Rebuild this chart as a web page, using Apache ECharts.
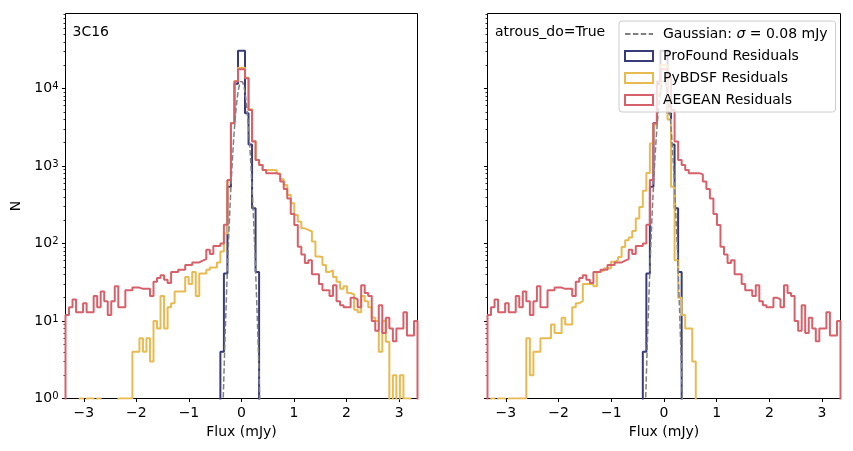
<!DOCTYPE html>
<html>
<head>
<meta charset="utf-8">
<script src="https://cdn.jsdelivr.net/npm/echarts@6/dist/echarts.min.js"></script>
<style>
  html, body { margin: 0; padding: 0; background: #fff; }
  #chart { width: 853px; height: 451px; }
</style>
</head>
<body>
<div id="chart"></div>
<script>
// 100 histogram bins over the plotted flux range (mJy)
const xMin = -3.35, xMax = 3.35;

// counts per bin (0 = empty bin)
const profound = [
  0,0,0,0,0,0,0,0,0,0, 0,0,0,0,0,0,0,0,0,0,
  0,0,0,0,0,0,0,0,0,0, 0,0,0,0,0,0,0,0,0,0,
  0,0,0,0,4,41,540,3600,11500,30700, 30700,4800,1900,285,43,0,0,0,0,0,
  0,0,0,0,0,0,0,0,0,0, 0,0,0,0,0,0,0,0,0,0,
  0,0,0,0,0,0,0,0,0,0, 0,0,0,0,0,0,0,0,0,0
];
const aegean = [
  12,15,19,13,13,17,13,13,21,15, 24,18,12,18,28,15,15,25,25,27,
  27,26,26,26,21,32,36,39,34,31, 43,43,46,46,53,53,57,57,60,63,
  83,73,93,93,100,175,660,3570,12300,17800, 17800,13600,5300,2070,1200,1030,890,810,810,810,
  780,630,505,380,240,174,91,72,56,61, 40,40,30,25,25,21,29,18,16,15,
  15,20,19,15,29,23,21,10,7.5,16, 7,11,8,5.5,8,8,13,6.5,6.5,10
];
const pybdsf3C16 = [
  0,0,0,0,1,0,1,1,0,1, 0,0,0,0,0,1,1,1,1,4,
  4,6,4,6,3,10,8,21,8,15, 17,24,24,24,37,30,43,21,41,41,
  46,49,49,57,79,135,650,3600,12500,18500, 18500,13800,5400,2100,1200,1030,890,890,890,880,
  800,675,570,424,330,233,191,157,150,143, 106,68,67,53,43,45,37,32,26,28,
  23,22,14,13,21,18,15,11,10,4, 10,5.4,0,2,0,2,1,1,0,0
];
const pybdsfAtrous = [
  0,1,0,1,1,0,1,1,1,1, 1,6,2,4,4,6,6,6,9,7,
  7,11,9,9,15,17,18,30,30,30, 28,43,45,48,48,58,61,67,90,110,
  120,145,210,295,480,815,1950,3400,8300,20000, 20000,4000,540,61,20,12,8,8,3,0,
  0,0,0,0,0,0,0,0,0,0, 0,0,0,0,0,0,0,0,0,0,
  0,0,0,0,0,0,0,0,0,0, 0,0,0,0,0,0,0,0,0,0
];

// dashed Gaussian (sigma = 0.08 mJy) as traced on the figure
const gaussX = [-0.36,-0.34,-0.32,-0.30,-0.28,-0.26,-0.24,-0.22,-0.20,-0.18,-0.16,-0.14,-0.12,-0.10,-0.08,-0.06,-0.04,-0.02,0,
  0.02,0.04,0.06,0.08,0.10,0.12,0.14,0.16,0.18,0.20,0.22,0.24,0.26,0.28,0.30,0.32,0.34,0.36];
const gaussY = [0.51,1.5,4.3,11.2,27.7,64,140,288,555,1000,1710,2730,4090,5770,7640,9510,11100,12200,12600,
  12200,11100,9510,7640,5770,4090,2730,1710,1000,555,288,140,64,27.7,11.2,4.3,1.5,0.51];

const xTicks = [-3, -2, -1, 0, 1, 2, 3];
const yMajor = [1, 10, 100, 1000, 10000];
const yMinor = [2,3,4,5,6,7,8,9, 20,30,40,50,60,70,80,90, 200,300,400,500,600,700,800,900,
  2000,3000,4000,5000,6000,7000,8000,9000, 20000,30000,40000,50000,60000,70000,80000,90000];
const yMax = 93000;

const C_PRO = '#393b79', C_PYB = '#e7ba52', C_AEG = '#d6616b', C_GAUSS = '#808080';
const FONT = 'DejaVu Sans';
const GAUSS_NAME = 'Gaussian: σ = 0.08 mJy';

// outline of a step histogram, empty bins fall below the axis
function stepLine(counts) {
  const w = (xMax - xMin) / counts.length;
  const low = 1e-3;
  const pts = [[xMin, low]];
  counts.forEach(function (c, i) {
    const v = c > 0 ? c : low;
    pts.push([xMin + i * w, v], [xMin + (i + 1) * w, v]);
  });
  pts.push([xMax, low]);
  return pts;
}

function histSeries(name, counts, color, idx) {
  return {
    name: name, type: 'line', xAxisIndex: idx, yAxisIndex: idx * 2,
    data: stepLine(counts), symbol: 'none', animation: false,
    lineStyle: { color: color, width: 2 }, itemStyle: { color: color }
  };
}

function gaussSeries(idx) {
  return {
    name: GAUSS_NAME, type: 'line', xAxisIndex: idx, yAxisIndex: idx * 2,
    data: gaussX.map(function (x, i) { return [x, gaussY[i]]; }),
    symbol: 'none', animation: false, z: 3,
    lineStyle: { color: C_GAUSS, width: 1.5, type: [5.5, 2.4] }, itemStyle: { color: C_GAUSS }
  };
}

function xAxis(idx) {
  return {
    gridIndex: idx, type: 'value', min: xMin, max: xMax, position: 'bottom',
    name: 'Flux (mJy)', nameLocation: 'middle', nameGap: 27,
    nameTextStyle: { fontFamily: FONT, fontSize: 14, color: '#000' },
    axisLine: { show: false, onZero: false },
    axisTick: { customValues: xTicks, length: 3.5, lineStyle: { color: '#000' } },
    axisLabel: {
      customValues: xTicks, margin: 8, fontFamily: FONT, fontSize: 14, color: '#000',
      formatter: function (v) { return v < 0 ? '\u2212' + (-v) : String(v); }
    },
    splitLine: { show: false }
  };
}

function yAxes(idx, labels) {
  return [{
    gridIndex: idx, type: 'log', logBase: 10, min: 1, max: yMax, position: 'left',
    name: labels ? 'N' : '', nameLocation: 'middle', nameGap: 42,
    nameTextStyle: { fontFamily: FONT, fontSize: 14, color: '#000' },
    axisLine: { show: false, onZero: false },
    axisTick: { customValues: yMajor, length: 3.5, lineStyle: { color: '#000' } },
    axisLabel: {
      show: labels, customValues: yMajor, margin: 7, color: '#000',
      formatter: function (v) { return '{b|10}{e|' + Math.round(Math.log10(v)) + '}'; },
      rich: {
        b: { fontFamily: FONT, fontSize: 14, lineHeight: 14, verticalAlign: 'bottom', color: '#000' },
        e: { fontFamily: FONT, fontSize: 10, lineHeight: 10, verticalAlign: 'top', padding: [0, 0, 8, 0], color: '#000' }
      }
    },
    splitLine: { show: false }
  }, {
    gridIndex: idx, type: 'log', logBase: 10, min: 1, max: yMax, position: 'left', offset: 0,
    axisLine: { show: false, onZero: false }, axisLabel: { show: false }, splitLine: { show: false },
    axisTick: { customValues: yMinor, length: 2, lineStyle: { color: '#000', width: 0.8 } }
  }];
}

const chart = echarts.init(document.getElementById('chart'), null, { renderer: 'canvas' });
chart.setOption({
  animation: false,
  grid: [
    { left: 65.5, top: 13.5, width: 352, height: 385, show: true, borderColor: '#000', borderWidth: 1, backgroundColor: 'transparent' },
    { left: 487.5, top: 13.5, width: 353, height: 385, show: true, borderColor: '#000', borderWidth: 1, backgroundColor: 'transparent' }
  ],
  xAxis: [xAxis(0), xAxis(1)],
  yAxis: yAxes(0, true).concat(yAxes(1, false)),
  legend: {
    orient: 'vertical', left: 619, top: 21, selectedMode: false,
    padding: [6, 8, 5, 5], itemGap: 8, itemWidth: 28, itemHeight: 10,
    backgroundColor: 'rgba(255,255,255,0.8)', borderColor: '#cccccc', borderWidth: 1, borderRadius: 3,
    textStyle: {
      fontFamily: FONT, fontSize: 14, color: '#000', lineHeight: 14, padding: [0, 0, 0, 5],
      rich: { i: { fontFamily: FONT, fontSize: 14, fontStyle: 'italic', color: '#000', lineHeight: 14 } }
    },
    formatter: function (name) { return name.replace('σ', '{i|σ}'); },
    data: [
      { name: GAUSS_NAME, itemStyle: { opacity: 0 } },
      { name: 'ProFound Residuals', icon: 'rect', itemStyle: { color: 'rgba(0,0,0,0)', borderColor: C_PRO, borderWidth: 2 } },
      { name: 'PyBDSF Residuals', icon: 'rect', itemStyle: { color: 'rgba(0,0,0,0)', borderColor: C_PYB, borderWidth: 2 } },
      { name: 'AEGEAN Residuals', icon: 'rect', itemStyle: { color: 'rgba(0,0,0,0)', borderColor: C_AEG, borderWidth: 2 } }
    ]
  },
  graphic: [
    { type: 'text', x: 72.5, y: 32.5, style: { text: '3C16', fontFamily: FONT, fontSize: 14, fill: '#000', align: 'left', verticalAlign: 'middle' } },
    { type: 'text', x: 495, y: 32.5, style: { text: 'atrous_do=True', fontFamily: FONT, fontSize: 14, fill: '#000', align: 'left', verticalAlign: 'middle' } }
  ],
  series: [
    histSeries('ProFound Residuals', profound, C_PRO, 0),
    histSeries('PyBDSF Residuals', pybdsf3C16, C_PYB, 0),
    histSeries('AEGEAN Residuals', aegean, C_AEG, 0),
    gaussSeries(0),
    histSeries('ProFound Residuals', profound, C_PRO, 1),
    histSeries('PyBDSF Residuals', pybdsfAtrous, C_PYB, 1),
    histSeries('AEGEAN Residuals', aegean, C_AEG, 1),
    gaussSeries(1)
  ]
});
</script>
</body>
</html>
